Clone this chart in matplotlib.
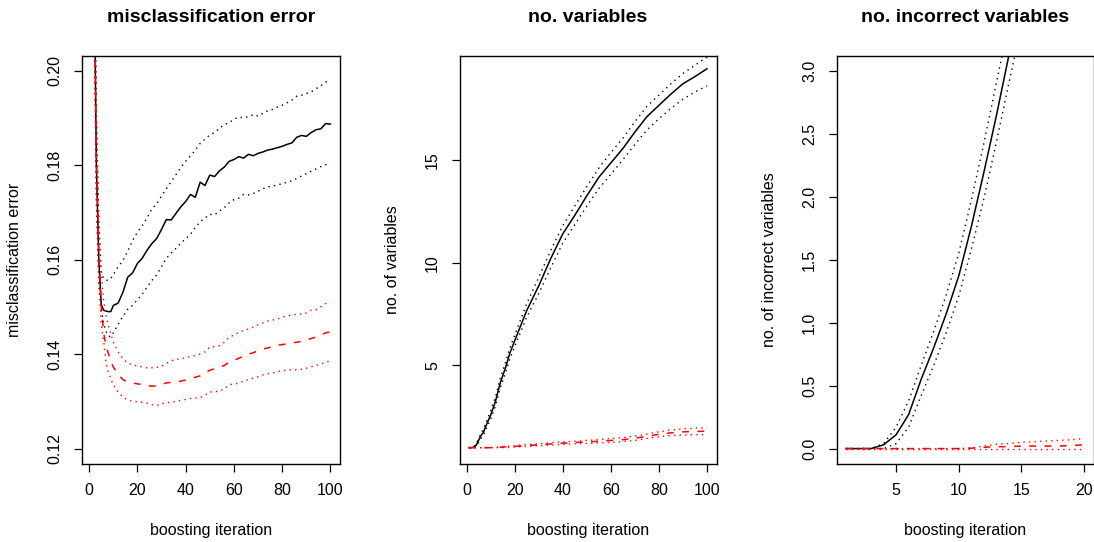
import matplotlib
matplotlib.use('Agg')
import matplotlib.pyplot as plt

plt.rcParams['font.family'] = ['Liberation Sans', 'DejaVu Sans']

# ---- panel 1: misclassification error ----
err_x = [1, 2, 3, 4, 5, 6, 7, 8, 9, 10, 12, 14, 16, 18, 20, 22, 24, 26, 28, 30,
         32, 34, 36, 38, 40, 42, 44, 46, 48, 50, 52, 54, 56, 58, 60, 62, 64, 66,
         68, 70, 72, 74, 76, 78, 80, 82, 84, 86, 88, 90, 92, 94, 96, 98, 100]
err_black = [0.290, 0.226, 0.180, 0.160, 0.1505, 0.1493, 0.1491, 0.1490, 0.1490, 0.1503,
             0.1508, 0.1531, 0.1563, 0.1572, 0.1592, 0.1603, 0.1620, 0.1634, 0.1645, 0.1664,
             0.1685, 0.1684, 0.1698, 0.1712, 0.1723, 0.1738, 0.1732, 0.1764, 0.1757, 0.1779,
             0.1776, 0.1788, 0.1796, 0.1808, 0.1812, 0.1818, 0.1815, 0.1823, 0.1820, 0.1825,
             0.1828, 0.1832, 0.1834, 0.1837, 0.1840, 0.1844, 0.1847, 0.1859, 0.1863, 0.1861,
             0.1869, 0.1875, 0.1877, 0.1888, 0.1887]
err_black_hi = [0.300, 0.235, 0.190, 0.168, 0.1575, 0.1560, 0.1556, 0.1557, 0.1560, 0.1568,
                0.1585, 0.1598, 0.1618, 0.1641, 0.1658, 0.1672, 0.1688, 0.1708, 0.1718, 0.1735,
                0.1750, 0.1765, 0.1780, 0.1795, 0.1808, 0.1820, 0.1832, 0.1846, 0.1855, 0.1864,
                0.1869, 0.1878, 0.1886, 0.1890, 0.1897, 0.1902, 0.1900, 0.1903, 0.1907, 0.1904,
                0.1910, 0.1915, 0.1918, 0.1923, 0.1927, 0.1932, 0.1938, 0.1946, 0.1948, 0.1952,
                0.1955, 0.1962, 0.1968, 0.1976, 0.1980]
err_black_lo = [0.280, 0.218, 0.172, 0.155, 0.1495, 0.1465, 0.1448, 0.1438, 0.1437, 0.1445,
                0.1463, 0.1480, 0.1495, 0.1503, 0.1515, 0.1527, 0.1542, 0.1556, 0.1568, 0.1585,
                0.1603, 0.1614, 0.1624, 0.1635, 0.1644, 0.1654, 0.1668, 0.1680, 0.1688, 0.1696,
                0.1695, 0.1703, 0.1710, 0.1720, 0.1727, 0.1730, 0.1738, 0.1737, 0.1740, 0.1745,
                0.1750, 0.1754, 0.1756, 0.1758, 0.1761, 0.1764, 0.1767, 0.1772, 0.1777, 0.1782,
                0.1787, 0.1792, 0.1797, 0.1801, 0.1805]
err_red = [0.290, 0.226, 0.182, 0.162, 0.1500, 0.1445, 0.1418, 0.1401, 0.1385, 0.1373,
           0.1357, 0.1346, 0.1341, 0.1339, 0.1337, 0.1336, 0.1334, 0.1332, 0.1333, 0.1336,
           0.1339, 0.1340, 0.1341, 0.1343, 0.1345, 0.1348, 0.1351, 0.1354, 0.1360, 0.1366,
           0.1369, 0.1372, 0.1376, 0.1383, 0.1387, 0.1391, 0.1396, 0.1400, 0.1403, 0.1407,
           0.1411, 0.1413, 0.1416, 0.1419, 0.1420, 0.1422, 0.1424, 0.1425, 0.1427, 0.1430,
           0.1433, 0.1436, 0.1440, 0.1445, 0.1447]
err_red_hi = [0.300, 0.235, 0.190, 0.168, 0.157, 0.1515, 0.1482, 0.1460, 0.1443, 0.1425,
              0.1405, 0.1390, 0.1381, 0.1377, 0.1375, 0.1373, 0.1371, 0.1371, 0.1372, 0.1374,
              0.1380, 0.1386, 0.1389, 0.1390, 0.1392, 0.1395, 0.1397, 0.1400, 0.1405, 0.1415,
              0.1416, 0.1418, 0.1425, 0.1436, 0.1440, 0.1446, 0.1450, 0.1453, 0.1457, 0.1462,
              0.1466, 0.1470, 0.1472, 0.1474, 0.1478, 0.1481, 0.1483, 0.1484, 0.1485, 0.1487,
              0.1493, 0.1494, 0.1500, 0.1507, 0.1510]
err_red_lo = [0.280, 0.218, 0.175, 0.156, 0.1463, 0.1430, 0.1380, 0.1361, 0.1348, 0.1335,
              0.1320, 0.1309, 0.1303, 0.1300, 0.1299, 0.1298, 0.1296, 0.1293, 0.1291, 0.1295,
              0.1297, 0.1298, 0.1300, 0.1302, 0.1304, 0.1306, 0.1307, 0.1308, 0.1313, 0.1320,
              0.1320, 0.1322, 0.1326, 0.1335, 0.1337, 0.1338, 0.1343, 0.1346, 0.1349, 0.1352,
              0.1356, 0.1358, 0.1360, 0.1363, 0.1365, 0.1366, 0.1367, 0.1367, 0.1368, 0.1370,
              0.1373, 0.1376, 0.1379, 0.1383, 0.1386]

# ---- panel 2: no. variables ----
var_x = [1, 2, 3, 4, 5, 6, 7, 8, 10, 12, 14, 16, 18, 20, 25, 30, 35, 40, 45, 50,
         55, 60, 65, 70, 75, 80, 85, 90, 95, 100]
var_black = [1.0, 1.0, 1.03, 1.12, 1.36, 1.59, 1.75, 2.05, 2.58, 3.25, 4.15, 4.82, 5.6, 6.2,
             7.67, 8.87, 10.2, 11.4, 12.3, 13.25, 14.15, 14.85, 15.55, 16.35, 17.1, 17.65,
             18.2, 18.7, 19.05, 19.43]
var_black_hi = [1.0, 1.0, 1.05, 1.18, 1.45, 1.7, 1.9, 2.22, 2.8, 3.45, 4.38, 5.08, 5.85, 6.47,
                8.0, 9.28, 10.6, 11.8, 12.75, 13.7, 14.6, 15.35, 16.05, 16.85, 17.6, 18.15,
                18.7, 19.2, 19.6, 20.0]
var_black_lo = [1.0, 1.0, 1.0, 1.05, 1.25, 1.45, 1.6, 1.9, 2.38, 3.02, 3.92, 4.58, 5.32, 5.92,
                7.35, 8.5, 9.75, 10.95, 11.85, 12.75, 13.6, 14.3, 15.0, 15.75, 16.45, 17.0,
                17.5, 17.95, 18.3, 18.6]
var_red = [1.0, 1.0, 1.0, 1.0, 1.0, 1.0, 1.0, 1.0, 1.0, 1.01, 1.02, 1.04, 1.05, 1.06,
           1.10, 1.14, 1.18, 1.22, 1.25, 1.28, 1.31, 1.35, 1.39, 1.46, 1.55, 1.65,
           1.72, 1.77, 1.79, 1.80]
var_red_hi = [1.0, 1.0, 1.0, 1.0, 1.0, 1.0, 1.0, 1.0, 1.0, 1.02, 1.04, 1.06, 1.08, 1.10,
              1.15, 1.19, 1.24, 1.28, 1.31, 1.35, 1.39, 1.44, 1.49, 1.56, 1.66, 1.77,
              1.86, 1.91, 1.95, 1.97]
var_red_lo = [1.0, 1.0, 1.0, 1.0, 1.0, 1.0, 1.0, 1.0, 1.0, 1.0, 1.0, 1.0, 1.01, 1.03,
              1.06, 1.09, 1.12, 1.16, 1.19, 1.21, 1.23, 1.26, 1.30, 1.35, 1.45, 1.53,
              1.59, 1.62, 1.63, 1.63]

# ---- panel 3: no. incorrect variables ----
inc_x = list(range(1, 21))
inc_black = [0, 0, 0, 0.03, 0.11, 0.27, 0.55, 0.80, 1.07, 1.37, 1.76, 2.19, 2.64, 3.12,
             3.6, 4.1, 4.6, 5.1, 5.55, 6.0]
inc_black_hi = [0, 0, 0, 0.04, 0.17, 0.38, 0.66, 0.93, 1.22, 1.55, 1.97, 2.42, 2.90, 3.38,
                3.88, 4.4, 4.9, 5.4, 5.9, 6.4]
inc_black_lo = [0, 0, 0, 0, 0.04, 0.17, 0.42, 0.66, 0.92, 1.21, 1.58, 1.98, 2.43, 2.9,
                3.36, 3.85, 4.3, 4.8, 5.2, 5.6]
inc_red = [0, 0, 0, 0, 0, 0, 0, 0, 0, 0, 0.003, 0.01, 0.015, 0.015, 0.02, 0.02, 0.02, 0.02,
           0.025, 0.03]
inc_red_hi = [0, 0, 0, 0, 0, 0, 0, 0, 0, 0, 0.005, 0.02, 0.035, 0.04, 0.05, 0.055, 0.06,
              0.065, 0.07, 0.08]
inc_red_lo = [0] * 20

W, H = 1094, 542
TOP, BOT = 55.6, 463.7
DOT = (0, (1, 3))
DASH = (0, (4.5, 5.5))

fig = plt.figure(figsize=(W / 100, H / 100), dpi=100)


def panel(left, right, x, black, black_hi, black_lo, red, red_hi, red_lo,
          title, ylabel, xlim, ylim, xticks, yticks, yticklabels):
    ax = fig.add_axes([left / W, 1 - BOT / H, (right - left) / W, (BOT - TOP) / H])
    ax.plot(x, black, color='black', lw=1.1)
    ax.plot(x, black_hi, color='black', lw=1.0, linestyle=DOT)
    ax.plot(x, black_lo, color='black', lw=1.0, linestyle=DOT)
    ax.plot(x, red, color='red', lw=1.1, linestyle=DASH)
    ax.plot(x, red_hi, color='red', lw=1.0, linestyle=DOT)
    ax.plot(x, red_lo, color='red', lw=1.0, linestyle=DOT)
    ax.set_xlim(xlim)
    ax.set_ylim(ylim)
    ax.set_xticks(xticks)
    ax.set_yticks(yticks)
    ax.set_yticklabels(yticklabels, rotation=90, va='center')
    ax.tick_params(direction='out', length=6, width=0.9, labelsize=11.5, pad=8)
    for s in ax.spines.values():
        s.set_linewidth(1.0)
    h = BOT - TOP
    ax.set_title(title, fontsize=14, fontweight='bold', y=1 + (TOP - 17.4) / h,
                 va='center', pad=0)
    ax.set_xlabel('boosting iteration', fontsize=11.5, va='center')
    ax.xaxis.set_label_coords(0.5, -(530 - BOT) / h)
    ax.set_ylabel(ylabel, fontsize=11.5, va='center')
    ax.yaxis.set_label_coords(-67 / (right - left), 0.5)
    return ax


panel(82, 340, err_x, err_black, err_black_hi, err_black_lo,
      err_red, err_red_hi, err_red_lo,
      'misclassification error', 'misclassification error',
      (-2.96, 103.96), (0.1168, 0.2032), [0, 20, 40, 60, 80, 100],
      [0.12, 0.14, 0.16, 0.18, 0.20], ['0.12', '0.14', '0.16', '0.18', '0.20'])

panel(459.5, 716.5, var_x, var_black, var_black_hi, var_black_lo,
      var_red, var_red_hi, var_red_lo,
      'no. variables', 'no. of variables',
      (-2.96, 103.96), (0.22, 20.07), [0, 20, 40, 60, 80, 100],
      [5, 10, 15], ['5', '10', '15'])

panel(836.5, 1093.5, inc_x, inc_black, inc_black_hi, inc_black_lo,
      inc_red, inc_red_hi, inc_red_lo,
      'no. incorrect variables', 'no. of incorrect variables',
      (0.24, 20.76), (-0.12, 3.12), [5, 10, 15, 20],
      [0.0, 0.5, 1.0, 1.5, 2.0, 2.5, 3.0], ['0.0', '0.5', '1.0', '1.5', '2.0', '2.5', '3.0'])

fig.savefig('out.png', dpi=100)
